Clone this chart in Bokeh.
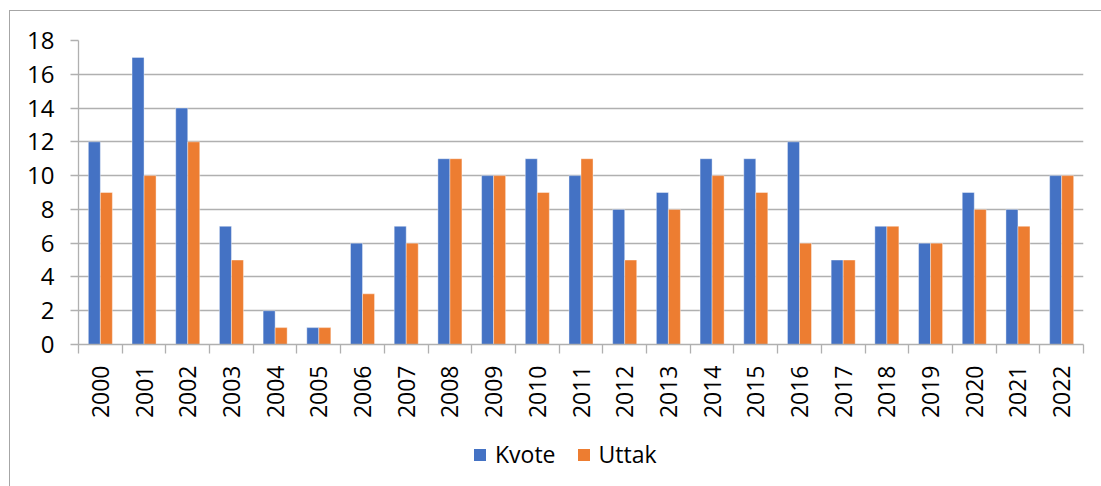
import math
from bokeh.plotting import figure
from bokeh.layouts import column
from bokeh.models import ColumnDataSource, FixedTicker, Legend, LegendItem, Range1d
from bokeh.transform import dodge
from bokeh.embed import file_html
from bokeh.resources import INLINE

years = ["2000", "2001", "2002", "2003", "2004", "2005", "2006", "2007", "2008", "2009", "2010",
         "2011", "2012", "2013", "2014", "2015", "2016", "2017", "2018", "2019", "2020", "2021", "2022"]
kvote = [12, 17, 14, 7, 2, 1, 6, 7, 11, 10, 11, 10, 8, 9, 11, 11, 12, 5, 7, 6, 9, 8, 10]
uttak = [9, 10, 12, 5, 1, 1, 3, 6, 11, 10, 9, 11, 5, 8, 10, 9, 6, 5, 7, 6, 8, 7, 10]
y_ticks = [0, 2, 4, 6, 8, 10, 12, 14, 16, 18]
series_names = ["Kvote", "Uttak"]
series_colors = ["#4472C4", "#ED7D31"]

xs = list(range(len(years)))
src = ColumnDataSource(dict(x=xs, kvote=kvote, uttak=uttak))

FONT = "Open Sans"
GRAY = "#b0b0b0"

p = figure(width=1091, height=419, output_backend="svg", toolbar_location=None,
           x_range=Range1d(-0.5, len(years) - 0.5), y_range=Range1d(0, 18),
           min_border_left=68, min_border_right=18, min_border_top=29, min_border_bottom=86)
p.outline_line_color = None
p.xgrid.grid_line_color = None
p.ygrid.grid_line_color = GRAY
p.ygrid.grid_line_width = 1.3
p.ygrid.ticker = FixedTicker(ticks=y_ticks)

bw = 0.275
p.vbar(x=dodge("x", -bw / 2, range=p.x_range), top="kvote", width=bw, source=src,
       fill_color=series_colors[0], line_color="white", line_width=0.4)
p.vbar(x=dodge("x", bw / 2, range=p.x_range), top="uttak", width=bw, source=src,
       fill_color=series_colors[1], line_color="white", line_width=0.4)

# y axis
ya = p.yaxis[0]
ya.ticker = FixedTicker(ticks=y_ticks)
ya.axis_line_color = GRAY
ya.axis_line_width = 1.3
ya.major_tick_line_color = GRAY
ya.major_tick_line_width = 1.3
ya.major_tick_out = 8
ya.major_tick_in = 0
ya.minor_tick_line_color = None
ya.major_label_text_font = FONT
ya.major_label_text_font_size = "24px"
ya.major_label_text_color = "#000000"
ya.major_label_standoff = 16

# x axis
xa = p.xaxis[0]
xa.ticker = FixedTicker(ticks=xs, minor_ticks=[i - 0.5 for i in range(len(years) + 1)])
xa.major_label_overrides = {i: y for i, y in enumerate(years)}
xa.axis_line_color = GRAY
xa.axis_line_width = 1.3
xa.major_tick_line_color = None
xa.major_tick_out = 0
xa.major_tick_in = 0
xa.minor_tick_line_color = GRAY
xa.minor_tick_line_width = 1.3
xa.minor_tick_out = 9
xa.minor_tick_in = 0
xa.major_label_orientation = math.pi / 2
xa.major_label_text_font = FONT
xa.major_label_text_font_size = "23px"
xa.major_label_text_color = "#000000"
xa.major_label_standoff = 12

# legend strip
pl = figure(width=1091, height=56, output_backend="svg", toolbar_location=None,
            x_range=Range1d(0, 1), y_range=Range1d(0, 1),
            x_axis_location=None, y_axis_location=None,
            min_border_left=0, min_border_right=0, min_border_top=0, min_border_bottom=0)
pl.outline_line_color = None
pl.grid.grid_line_color = None
items = []
for name, col in zip(series_names, series_colors):
    r = pl.vbar(x=[-5], top=[-5], width=0.1, fill_color=col, line_color=None)
    items.append(LegendItem(label=name, renderers=[r]))
legend = Legend(items=items, orientation="horizontal", location=(394, 16),
                glyph_width=15, glyph_height=15, label_standoff=8, spacing=20, label_height=15,
                padding=0, margin=0, border_line_color=None, background_fill_alpha=0,
                label_text_font=FONT, label_text_font_size="23px", label_text_color="#000000")
pl.add_layout(legend, "center")

layout = column(p, pl, spacing=0,
                styles={"margin-left": "9px", "margin-top": "10px",
                        "border-left": "1px solid #a6a6a6", "border-top": "1px solid #a6a6a6"})

open("out.html", "w").write(file_html(layout, INLINE))
